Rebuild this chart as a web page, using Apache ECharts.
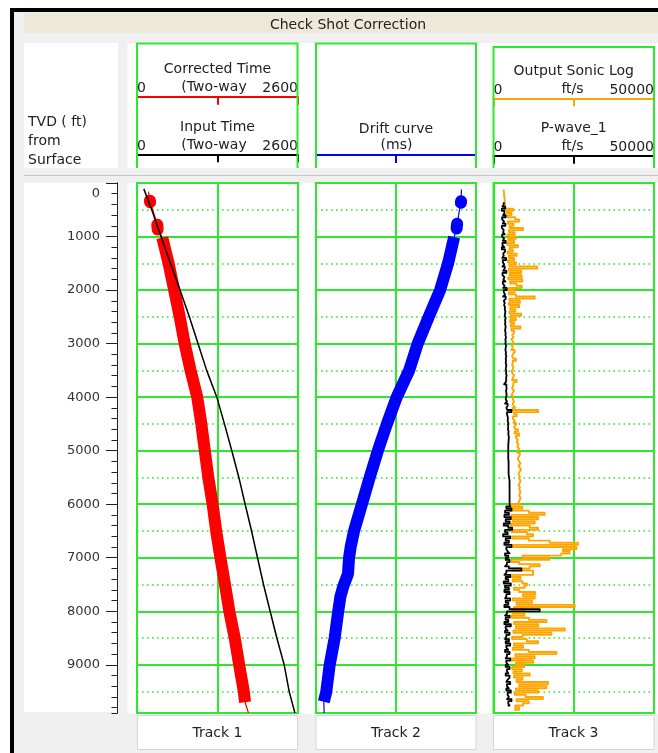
<!DOCTYPE html>
<html><head><meta charset="utf-8">
<script src="https://cdn.jsdelivr.net/npm/echarts@6/dist/echarts.min.js"></script>
<style>html,body{margin:0;padding:0;background:#fff;}#c{width:658px;height:753px;}</style>
</head><body><div id="c"></div><script>
// ---------- data ----------
const depthMin = 0, depthMax = 9900;
const trackNames = ['Track 1', 'Track 2', 'Track 3'];
const track1TickLabels = ['0', '', '2600'];
const track2TickLabels = ['-800', '', '100'];
const track3TickLabels = ['0', '', '50000'];

// Track 1 : corrected time (red, thick marks) and input time (black)
const corrBlobDepth = [330, 360, null, 780, 870];
const corrBlobTime  = [208, 212, null, 328, 334];
const corrThickDepth = [1020, 1500, 2000, 2500, 3000, 3500, 4000, 4500, 5000, 5500, 6000, 6500, 7000, 7500, 8000, 8500, 9000, 9500, 9700];
const corrThickTime  = [408, 510, 600, 690, 770, 865, 973, 1039, 1095, 1152, 1221, 1279, 1347, 1421, 1491, 1578, 1650, 1725, 1745];
const corrThinDepth = [160, 330, 360, 780, 870, 1020, 1500, 2000, 2500, 3000, 3500, 4000, 4500, 5000, 5500, 6000, 6500, 7000, 7500, 8000, 8500, 9000, 9500, 9700, 9900];
const corrThinTime  = [185, 208, 212, 328, 334, 408, 510, 600, 690, 770, 865, 973, 1039, 1095, 1152, 1221, 1279, 1347, 1421, 1491, 1578, 1650, 1725, 1745, 1800];
const inputDepth = [110, 500, 1000, 1500, 2000, 2500, 3000, 3500, 4000, 4500, 5000, 5500, 6000, 6500, 7000, 7500, 8000, 8500, 9000, 9500, 9900];
const inputTime  = [110, 238, 388, 540, 695, 845, 985, 1125, 1289, 1412, 1531, 1645, 1746, 1850, 1946, 2043, 2150, 2258, 2377, 2458, 2550];

// Track 2 : drift curve (blue, thick marks)
const driftBlobDepth = [340, 370, null, 760, 850];
const driftBlobVal   = [16, 15, null, -6, -9];
const driftThickDepth = [1010, 1500, 2000, 2500, 3000, 3500, 4000, 4500, 5000, 5500, 6000, 6500, 6800, 7000, 7300, 7540, 7730, 8000, 8500, 9000, 9500, 9690];
const driftThickVal   = [-23, -57, -102, -166, -228, -276, -346, -401, -452, -498, -542, -586, -605, -614, -620, -647, -663, -675, -695, -723, -742, -756];
const driftThinDepth = [120, 340, 370, 760, 850, 1010, 1500, 2000, 2500, 3000, 3500, 4000, 4500, 5000, 5500, 6000, 6500, 6800, 7000, 7300, 7540, 7730, 8000, 8500, 9000, 9500, 9690, 9900];
const driftThinVal   = [18, 16, 15, -6, -9, -23, -57, -102, -166, -228, -276, -346, -401, -452, -498, -542, -586, -605, -614, -620, -647, -663, -675, -695, -723, -742, -756, -754];

// Track 3 : logs sampled every 40 ft
const sonicTop = 120, sonicStep = 40;
const sonicVals = [
  3200,3300,3300,3400,3500,3500,3600,3700,3800,
  6100,4200,5600,4400,6800,8000,4500,6200,5000,9200,
  4800,6600,4400,7000,4600,6400,4300,7600,5000,6000,
  4400,7200,4800,6400,4500,7000,5000,13600,4800,8600,
  5000,8800,4600,9000,5200,7200,8800,4800,6600,4800,
  7000,12850,5000,8200,4800,8000,5200,6800,5000,8600,
  5400,7000,5200,6400,5400,8400,5600,6400,
  5800,6200,5600,6000,6400,5800,6000,5600,6600,6000,
  5800,6200,7000,6000,5800,6200,6000,5600,6000,6400,
  6000,5800,7200,6200,6000,5800,6400,6000,5600,6200,
  6000,6400,6000,
  6200,6800,6000,13900,6400,7200,6000,6600,6200,7000,
  6400,6800,7600,6600,8000,7000,7600,
  7200,7800,7400,8000,7600,7400,8200,7800,7600,8000,
  8400,7800,8200,8600,8000,7800,8200,8000,8400,8200,
  7800,8200,8000,8400,8200,8000,8400,8200,7800,8200,
  5000,9000,5200,11000,15950,5600,13880,6000,12840,5400,
  11300,13880,5600,10400,12320,5800,11000,17500,26300,6000,
  25800,21650,23700,21100,9000,17500,5600,
  8000,14400,11300,6000,12320,12300,5200,8400,6000,9000,
  10400,9700,6400,8000,13000,9200,12840,6000,12000,7200,
  25300,6400,9800,
  6000,9600,5600,11000,16500,6400,13880,7000,22200,6200,
  18000,9000,5800,10400,13880,6400,9200,6000,11000,19600,
  6800,12840,5600,12320,7000,9600,5800,8800,6200,11300,
  6400,9000,7200,17000,8000,16500,7000,13880,6600,10000,
  15400,7200,11000,9200,6800,8000,6400
];
const pwaveTop = 360, pwaveStep = 40;
const pwaveVals = [
  3200,2800,3600,2600,3400,3000,3800,2700,3300,2900,
  3700,2600,3200,3000,3500,2700,3300,2900,3800,2800,
  3400,2600,3600,3000,3200,2700,3900,2900,3300,2800,
  3500,3000,4000,2800,3400,3100,3700,2900,3500,3000,
  4100,3200,3600,3000,3800,3200,3500,3300,
  3600,3500,3700,3600,3500,3800,3600,3700,3600,3800,
  3700,3600,3800,3700,3900,3700,3800,3700,3900,3800,
  3700,3900,3800,4000,3800,3900,3800,4000,3900,3800,
  4000,3900,4100,3900,4000,3800,3300,4000,4100,3900,
  4000,4100,3900,3800,4200,3600,4400,4000,4300,
  5600,4200,4400,4500,4400,4600,4500,4600,4500,4700,
  4600,4700,4800,4700,4700,4600,4600,4600,4600,4600,
  4600,4600,4600,4700,4700,4700,4700,4700,4700,4700,
  4800,4900,5000,5000,5000,5000,5000,5000,5000,5000,
  5000,5000,5000,5000,
  5200,4000,5600,3600,4800,3400,5400,3800,5000,3200,
  4600,5800,3600,4400,3000,5200,3800,4800,3400,5600,
  4000,4400,5000,3600,4600,3800,5000,4200,3600,4800,
  8700,4000,3400,5200,3800,4600,3200,5400,3600,4800,
  3400,5000,4000,3600,5200,3800,4600,3400,5000,14400,
  4200,3600,5000,3800,4600,3400,5400,3800,4400,3600,
  5000,4000,3600,4800,3800,5200,4000,4600,3600,5000,
  4200,3800,5200,4000,4600,3800,5000,4200,4600,3800,
  5000,4400,4000,5200,4200,4800,4000,5400,4400,4800,
  4200,5600,4600,5000,4400
];

// ---------- helpers ----------
const green = '#2ee82e';
const FONT = 'DejaVu Sans';
function pairs(depths, vals) {
  return depths.map((d, i) => d === null ? ['-', '-'] : [vals[i], d]);
}
function sampled(top, step, vals) {
  return vals.map((v, i) => [v, top + i * step]);
}

const gridsDef = [
  { left: 137, top: 183, width: 161, height: 530 },
  { left: 316, top: 183, width: 160, height: 530 },
  { left: 493.5, top: 183, width: 160.5, height: 530 }
];

const yAxes = [];
const solidY = [];
gridsDef.forEach((g, gi) => {
  yAxes.push({ gridIndex: gi, type: 'value', inverse: true, min: depthMin, max: depthMax, interval: 500,
    axisLine: { show: false }, axisTick: { show: false }, axisLabel: { show: false },
    splitLine: { show: true, lineStyle: { color: green, width: 1.6, type: [1.6, 3.4] } } });
  solidY.push(yAxes.length);
  yAxes.push({ gridIndex: gi, type: 'value', inverse: true, min: depthMin, max: depthMax, interval: 1000,
    axisLine: { show: false }, axisTick: { show: false }, axisLabel: { show: false },
    splitLine: { show: true, lineStyle: { color: green, width: 2 } } });
});
// depth ruler (minor ticks every 200 ft)
yAxes.push({ gridIndex: 0, type: 'value', inverse: true, min: depthMin, max: depthMax, interval: 200,
  position: 'left', offset: 20,
  axisLine: { show: true, onZero: false, lineStyle: { color: '#222', width: 1 } },
  axisTick: { show: true, length: 5.5, lineStyle: { color: '#222', width: 1 } },
  axisLabel: { show: false }, splitLine: { show: false } });
// depth ruler (major ticks + labels every 1000 ft)
yAxes.push({ gridIndex: 0, type: 'value', inverse: true, min: depthMin, max: depthMax, interval: 1000,
  position: 'left', offset: 20,
  axisLine: { show: true, onZero: false, lineStyle: { color: '#222', width: 1 } },
  axisTick: { show: true, length: 11, lineStyle: { color: '#222', width: 1 } },
  axisLabel: { show: true, margin: 17, color: '#333', fontSize: 13, fontFamily: FONT, showMaxLabel: false,
    formatter: v => v === 0 ? '{z|0}' : String(v),
    rich: { z: { fontSize: 13, fontFamily: FONT, color: '#333', padding: [22, 0, 0, 0] } } },
  splitLine: { show: false } });

function headerAxis(gi, min, max, interval, offset, color, name, labels, showSplit, custom) {
  const ax = {
    gridIndex: gi, type: 'value', position: 'top', offset: offset, min: min, max: max,
    axisLine: { show: true, onZero: false, lineStyle: { color: color, width: 2 } },
    axisTick: { show: true, inside: true, length: 8, lineStyle: { color: color, width: 2 } },
    axisLabel: { show: true, margin: 1, color: '#222', fontSize: 14, fontFamily: FONT,
      alignMinLabel: 'left', alignMaxLabel: 'right',
      formatter: (v, idx) => labels[idx] },
    name: name, nameLocation: 'middle', nameGap: 19,
    nameTextStyle: { color: '#222', fontSize: 14, fontFamily: FONT },
    splitLine: { show: showSplit, lineStyle: { color: green, width: 2 } }
  };
  if (custom) {
    ax.axisTick.customValues = custom;
    ax.axisLabel.customValues = custom;
  } else {
    ax.interval = interval;
  }
  return ax;
}
const xAxes = [
  headerAxis(0, 0, 2600, 1300, 86.3, '#ff0000', 'Corrected Time', track1TickLabels, false),
  headerAxis(0, 0, 2600, 1300, 28.7, '#000000', 'Input Time', track1TickLabels, true),
  headerAxis(1, -800, 100, null, 28, '#0000ff', 'Drift curve', track2TickLabels, true, [-800, -350, 100]),
  headerAxis(2, 0, 50000, 25000, 84.7, '#ffa500', 'Output Sonic Log', track3TickLabels, false),
  headerAxis(2, 0, 50000, 25000, 27.3, '#000000', 'P-wave_1', track3TickLabels, true)
];

function lineSeries(xi, yi, data, color, width, z, cap, step) {
  const s = { type: 'line', xAxisIndex: xi, yAxisIndex: yi, data: data, symbol: 'none', silent: true,
    connectNulls: false, z: z || 2,
    lineStyle: { color: color, width: width, cap: cap || 'butt', join: 'round' } };
  if (step) s.step = step;
  return s;
}

const series = [
  lineSeries(0, solidY[0], pairs(corrThinDepth, corrThinTime), '#ff0000', 1.2, 2),
  lineSeries(0, solidY[0], pairs(corrBlobDepth, corrBlobTime), '#ff0000', 12, 3, 'round'),
  lineSeries(0, solidY[0], pairs(corrThickDepth, corrThickTime), '#ff0000', 12, 3),
  lineSeries(1, solidY[0], pairs(inputDepth, inputTime), '#000000', 1.5, 4),
  lineSeries(2, solidY[1], pairs(driftThinDepth, driftThinVal), '#0000ff', 1.2, 2),
  lineSeries(2, solidY[1], pairs(driftBlobDepth, driftBlobVal), '#0000ff', 12, 3, 'round'),
  lineSeries(2, solidY[1], pairs(driftThickDepth, driftThickVal), '#0000ff', 12, 3),
  lineSeries(3, solidY[2], sampled(sonicTop, sonicStep, sonicVals), '#ffa500', 1.9, 2, 'butt', 'start'),
  lineSeries(4, solidY[2], sampled(pwaveTop, pwaveStep, pwaveVals), '#000000', 1.8, 3, 'butt', 'start')
];

// ---------- frame / panels ----------
const T = (text, x, y, align) => ({ type: 'text', x: x, y: y, z: 20,
  style: { text: text, fill: '#222', font: '14px "DejaVu Sans"', align: align || 'center', verticalAlign: 'middle' } });
const R = (x, y, w, h, fill, stroke) => ({ type: 'rect', z: -10, shape: { x: x, y: y, width: w, height: h },
  style: { fill: fill, stroke: stroke || null, lineWidth: 1 } });
const P = (pts, color, w) => ({ type: 'polyline', z: 10, shape: { points: pts },
  style: { stroke: color, lineWidth: w, fill: null } });

const graphic = [
  R(14, 12, 644, 741, '#f0f0f0'),
  R(10, 8, 648, 4, '#000'),
  R(10, 8, 4, 745, '#000'),
  R(24, 13, 634, 20, '#ece9d8'),
  T('Check Shot Correction', 348, 25),
  R(24, 43, 94, 125, '#fff'),
  R(127.5, 43, 530.5, 125, '#fff'),
  T('TVD ( ft)', 28, 122, 'left'), T('from', 28, 141, 'left'), T('Surface', 28, 160, 'left'),
  P([[137, 168], [137, 43.5], [297.5, 43.5], [297.5, 168]], green, 2),
  P([[316, 168], [316, 43.5], [476, 43.5], [476, 168]], green, 2),
  P([[493.5, 168], [493.5, 47], [654, 47], [654, 168]], green, 2),
  T('(Two-way', 214, 87), T('(Two-way', 214, 145.5),
  T('(ms)', 396.5, 145.5),
  T('ft/s', 572.5, 89), T('ft/s', 572.5, 146),
  P([[24, 175.5], [658, 175.5]], '#c4c4c4', 1),
  R(24, 183, 93.5, 529, '#fff'),
  R(127.5, 183, 530.5, 530.5, '#fff'),
  R(137.5, 715.5, 160, 34, '#fff', '#d6d6d6'),
  R(316, 715.5, 160, 34, '#fff', '#d6d6d6'),
  R(493.5, 715.5, 160.5, 34, '#fff', '#d6d6d6'),
  T(trackNames[0], 217.5, 733), T(trackNames[1], 396, 733), T(trackNames[2], 573.5, 733)
];

const chart = echarts.init(document.getElementById('c'), null, { renderer: 'canvas' });
chart.setOption({
  animation: false,
  backgroundColor: '#ffffff',
  textStyle: { fontFamily: FONT },
  grid: gridsDef.map(g => Object.assign({ show: true, borderColor: green, borderWidth: 2, backgroundColor: 'transparent', containLabel: false }, g)),
  xAxis: xAxes,
  yAxis: yAxes,
  series: series,
  graphic: graphic
});
</script></body></html>
